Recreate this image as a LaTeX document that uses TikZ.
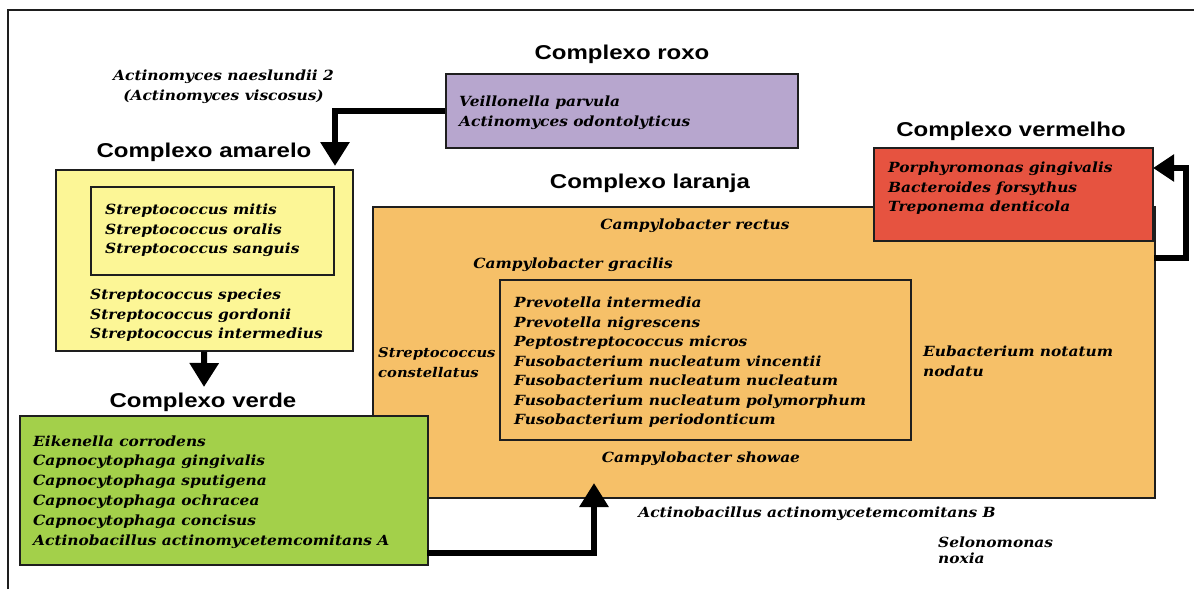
\documentclass[tikz,border=0pt]{standalone}
\usepackage{fontspec}
\setmainfont[FakeStretch=1.1]{DejaVu Serif}
\newfontfamily\headfont[FakeStretch=1.2]{Liberation Sans}
\usetikzlibrary{arrows.meta}
\definecolor{cpurple}{RGB}{183,166,206}
\definecolor{cyellow}{RGB}{252,246,150}
\definecolor{cgreen}{RGB}{163,208,74}
\definecolor{corange}{RGB}{246,192,104}
\definecolor{cred}{RGB}{230,83,64}
\definecolor{cline}{RGB}{30,30,30}
\tikzset{
  box/.style={draw=cline, line width=1.5pt, anchor=north west, inner sep=0pt},
  sp/.style={font=\bfseries\itshape\fontsize{14}{19.5}\selectfont, inner sep=0pt, align=left, anchor=north west},
  spc/.style={font=\bfseries\itshape\fontsize{14}{19.5}\selectfont, inner sep=0pt, anchor=base},
  head/.style={font=\headfont\bfseries\fontsize{20}{24}\selectfont, inner sep=0pt, anchor=base},
  arr/.style={line width=6pt, -{Triangle[width=28pt,length=24pt]}},
}
\begin{document}
\begin{tikzpicture}[x=1pt,y=-1pt]
\useasboundingbox (0,0) rectangle (1194,589);
% frame
\coordinate (fa) at (8,589);
\coordinate (fb) at (8,10);
\coordinate (fc) at (1194,10);
\draw[line width=2pt, cline] (fa) -- (fb) -- (fc);

% boxes
\node[box, fill=corange, minimum width=782pt, minimum height=291pt] (orange) at (372,206) {};
\node[box, fill=cred, minimum width=279pt, minimum height=93pt] (red) at (873,147) {};
\node[box, minimum width=411pt, minimum height=160pt] (orin) at (499,279) {};
\node[box, fill=cpurple, minimum width=352pt, minimum height=74pt] (purple) at (445,73) {};
\node[box, fill=cyellow, minimum width=297pt, minimum height=181pt] (yellow) at (55,169) {};
\node[box, minimum width=243pt, minimum height=88pt] (yin) at (90,186) {};
\node[box, fill=cgreen, minimum width=408pt, minimum height=149pt] (green) at (19,415) {};

% headings
\node[head] (hroxo) at (622,59) {Complexo roxo};
\node[head] (hamarelo) at (204,157) {Complexo amarelo};
\node[head] (hverde) at (203,407) {Complexo verde};
\node[head] (hlaranja) at (650,188) {Complexo laranja};
\node[head] (hvermelho) at (1011,136) {Complexo vermelho};

% texts
\node[sp, align=center, anchor=north] (tnaes) at (223.5,66.7) {\strut Actinomyces naeslundii 2\\(Actinomyces viscosus)};
\node[sp] (tpurple) at (459,92.7) {\strut Veillonella parvula\\Actinomyces odontolyticus};
\node[sp] (tyin) at (105,200.7) {\strut Streptococcus mitis\\Streptococcus oralis\\Streptococcus sanguis};
\node[sp] (tyout) at (90,285.7) {\strut Streptococcus species\\Streptococcus gordonii\\Streptococcus intermedius};
\node[sp, font=\bfseries\itshape\fontsize{14}{19.8}\selectfont] (tgreen) at (33,432.1) {\strut Eikenella corrodens\\Capnocytophaga gingivalis\\Capnocytophaga sputigena\\Capnocytophaga ochracea\\Capnocytophaga concisus\\Actinobacillus actinomycetemcomitans A};
\node[sp] (tred) at (888,158.7) {\strut Porphyromonas gingivalis\\Bacteroides forsythus\\Treponema denticola};
\node[sp] (torin) at (514,293.7) {\strut Prevotella intermedia\\Prevotella nigrescens\\Peptostreptococcus micros\\Fusobacterium nucleatum vincentii\\Fusobacterium nucleatum nucleatum\\Fusobacterium nucleatum polymorphum\\Fusobacterium periodonticum};
\node[spc] (trectus) at (695,229) {Campylobacter rectus};
\node[spc] (tgracilis) at (573,268) {Campylobacter gracilis};
\node[spc] (tshowae) at (701,462) {Campylobacter showae};
\node[spc] (tactb) at (817,517) {Actinobacillus actinomycetemcomitans B};
\node[sp, font=\bfseries\itshape\fontsize{13.4}{19.5}\selectfont] (tconst) at (378,343.7) {\strut Streptococcus\\constellatus};
\node[sp] (teub) at (923,342.7) {\strut Eubacterium notatum\\nodatu};
\node[sp, font=\bfseries\itshape\fontsize{14}{15}\selectfont] (tsel) at (938,536.5) {\strut Selonomonas\\noxia};

% arrows
\coordinate (ytop) at (335,166);
\draw[arr] (purple.west) -| (ytop);
\coordinate (ybot) at (204,387);
\draw[arr] (yellow.south) -- (ybot);
\coordinate (gout) at (427,553);
\coordinate (oin) at (594,483);
\draw[arr] (gout) -| (oin);
\coordinate (oout) at (1154,258);
\coordinate (rturn) at (1186,168);
\coordinate (rin) at (1153,168);
\draw[line width=6pt, -{Triangle[width=26pt,length=21pt]}] (oout) -| (rturn) -- (rin);
\end{tikzpicture}
\end{document}
